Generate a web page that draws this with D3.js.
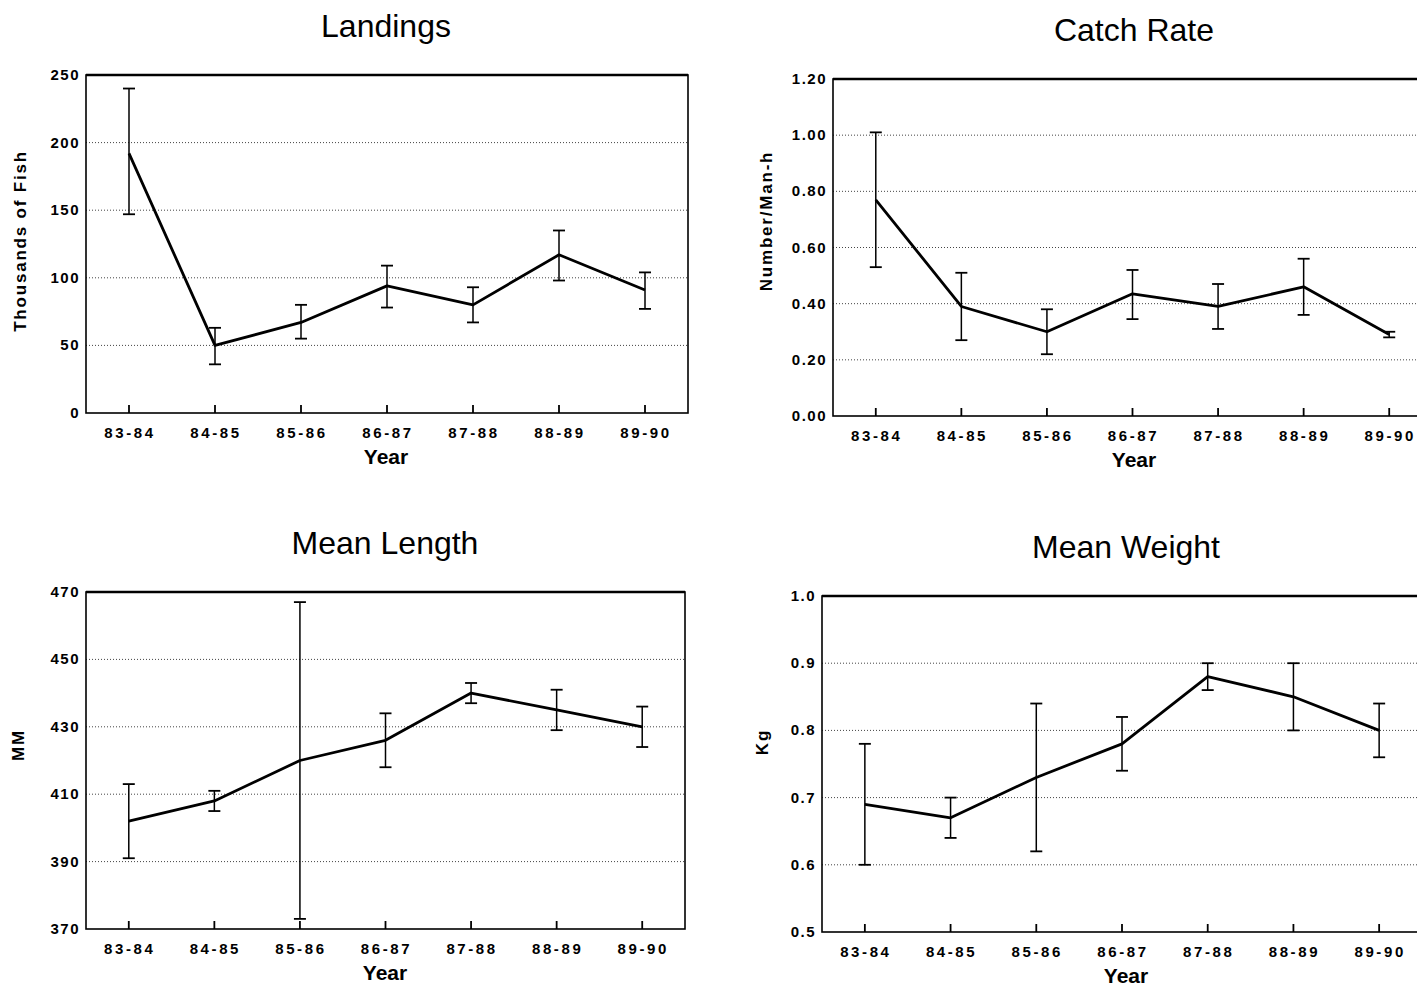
<!DOCTYPE html>
<html>
<head>
<meta charset="utf-8">
<script src="https://cdn.jsdelivr.net/npm/d3@7"></script>
<style>
  body { margin: 0; background: #fff; }
  text { font-family: "Liberation Sans", Arial, sans-serif; fill: #000; }
</style>
</head>
<body>
<script>
// seasons on the x axis
const years = ["83-84", "84-85", "85-86", "86-87", "87-88", "88-89", "89-90"];

// Landings (thousands of fish)
const landings   = [192, 50, 67, 94, 80, 117, 91];
const landingsLo = [147, 36, 55, 78, 67, 98, 77];
const landingsHi = [240, 63, 80, 109, 93, 135, 104];

// Catch rate (number / man-h)
const catchRate   = [0.77, 0.39, 0.30, 0.435, 0.39, 0.46, 0.29];
const catchRateLo = [0.53, 0.27, 0.22, 0.345, 0.31, 0.36, 0.28];
const catchRateHi = [1.01, 0.51, 0.38, 0.52, 0.47, 0.56, 0.30];

// Mean length (mm)
const meanLength   = [402, 408, 420, 426, 440, 435, 430];
const meanLengthLo = [391, 405, 373, 418, 437, 429, 424];
const meanLengthHi = [413, 411, 467, 434, 443, 441, 436];

// Mean weight (kg)
const meanWeight   = [0.69, 0.67, 0.73, 0.78, 0.88, 0.85, 0.80];
const meanWeightLo = [0.60, 0.64, 0.62, 0.74, 0.86, 0.80, 0.76];
const meanWeightHi = [0.78, 0.70, 0.84, 0.82, 0.90, 0.90, 0.84];

// y tick values
const landingsTicks = [0, 50, 100, 150, 200, 250];
const catchTicks    = [0, 0.2, 0.4, 0.6, 0.8, 1.0, 1.2];
const lengthTicks   = [370, 390, 410, 430, 450, 470];
const weightTicks   = [0.5, 0.6, 0.7, 0.8, 0.9, 1.0];

const W = 1417, H = 987;
const svg = d3.select("body").append("svg")
  .attr("width", W).attr("height", H);

function drawPanel(p) {
  const x = d3.scalePoint().domain(years).range([p.left, p.right]).padding(0.5);
  const y = d3.scaleLinear().domain(p.domain).range([p.bottom, p.top]);
  const g = svg.append("g");

  // dotted grid at interior ticks
  g.selectAll(".grid")
    .data(p.ticks.filter(t => t !== p.domain[0] && t !== p.domain[1]))
    .enter().append("line")
    .attr("x1", p.left).attr("x2", p.right)
    .attr("y1", d => y(d)).attr("y2", d => y(d))
    .attr("stroke", "#444").attr("stroke-width", 1)
    .attr("stroke-dasharray", "1,2");

  // frame
  g.append("rect")
    .attr("x", p.left).attr("y", p.top)
    .attr("width", p.right - p.left).attr("height", p.bottom - p.top)
    .attr("fill", "none").attr("stroke", "#000").attr("stroke-width", 1.6);
  g.append("line")
    .attr("x1", p.left).attr("x2", p.right)
    .attr("y1", p.top).attr("y2", p.top)
    .attr("stroke", "#000").attr("stroke-width", 2.6);

  // x ticks pointing inward
  g.selectAll(".xt").data(years).enter().append("line")
    .attr("x1", d => x(d)).attr("x2", d => x(d))
    .attr("y1", p.bottom).attr("y2", p.bottom - 8)
    .attr("stroke", "#000").attr("stroke-width", 1.8);

  // x tick labels
  g.selectAll(".xl").data(years).enter().append("text")
    .attr("x", d => x(d) + 1).attr("y", p.bottom + 25)
    .attr("text-anchor", "middle")
    .style("font-size", "15px").style("font-weight", "bold")
    .style("letter-spacing", "2.6px")
    .text(d => d);

  // y tick labels
  g.selectAll(".yl").data(p.ticks).enter().append("text")
    .attr("x", p.left - 6).attr("y", d => y(d) + 5)
    .attr("text-anchor", "end")
    .style("font-size", "15px").style("font-weight", "bold")
    .style("letter-spacing", "1.5px")
    .text(d => d3.format(p.fmt)(d));

  // error bars
  const eb = g.selectAll(".eb").data(years).enter().append("g");
  eb.append("line")
    .attr("x1", d => x(d)).attr("x2", d => x(d))
    .attr("y1", (d, i) => y(p.lo[i])).attr("y2", (d, i) => y(p.hi[i]))
    .attr("stroke", "#000").attr("stroke-width", 1.5);
  [p.lo, p.hi].forEach(arr => {
    eb.append("line")
      .attr("x1", d => x(d) - 6).attr("x2", d => x(d) + 6)
      .attr("y1", (d, i) => y(arr[i])).attr("y2", (d, i) => y(arr[i]))
      .attr("stroke", "#000").attr("stroke-width", 1.8);
  });

  // mean line
  const line = d3.line().x((d, i) => x(years[i])).y(d => y(d));
  g.append("path").datum(p.values)
    .attr("d", line)
    .attr("fill", "none").attr("stroke", "#000")
    .attr("stroke-width", 2.8).attr("stroke-linejoin", "round");

  // title
  const cx = p.titleX;
  g.append("text")
    .attr("x", cx).attr("y", p.top - 38)
    .attr("text-anchor", "middle")
    .style("font-size", "32px")
    .text(p.title);

  // x axis title
  g.append("text")
    .attr("x", cx).attr("y", p.bottom + 51)
    .attr("text-anchor", "middle")
    .style("font-size", "21px").style("font-weight", "bold")
    .text("Year");

  // y axis title
  g.append("text")
    .attr("transform", `translate(${p.ylabX},${p.ylabY}) rotate(-90)`)
    .attr("text-anchor", "middle")
    .style("font-size", "17px").style("font-weight", "bold")
    .style("letter-spacing", "1.8px")
    .text(p.ylabel);
}

drawPanel({
  title: "Landings", titleX: 386, ylabel: "Thousands of Fish", ylabX: 26, ylabY: 241,
  left: 86, right: 688, top: 75, bottom: 413,
  domain: [0, 250], ticks: landingsTicks, fmt: "d",
  values: landings, lo: landingsLo, hi: landingsHi
});

drawPanel({
  title: "Catch Rate", titleX: 1134, ylabel: "Number/Man-h", ylabX: 772, ylabY: 221,
  left: 833, right: 1432, top: 79, bottom: 416,
  domain: [0, 1.2], ticks: catchTicks, fmt: ".2f",
  values: catchRate, lo: catchRateLo, hi: catchRateHi
});

drawPanel({
  title: "Mean Length", titleX: 385, ylabel: "MM", ylabX: 24, ylabY: 745,
  left: 86, right: 685, top: 592, bottom: 929,
  domain: [370, 470], ticks: lengthTicks, fmt: "d",
  values: meanLength, lo: meanLengthLo, hi: meanLengthHi
});

drawPanel({
  title: "Mean Weight", titleX: 1126, ylabel: "Kg", ylabX: 768, ylabY: 742,
  left: 822, right: 1422, top: 596, bottom: 932,
  domain: [0.5, 1.0], ticks: weightTicks, fmt: ".1f",
  values: meanWeight, lo: meanWeightLo, hi: meanWeightHi
});
</script>
</body>
</html>
